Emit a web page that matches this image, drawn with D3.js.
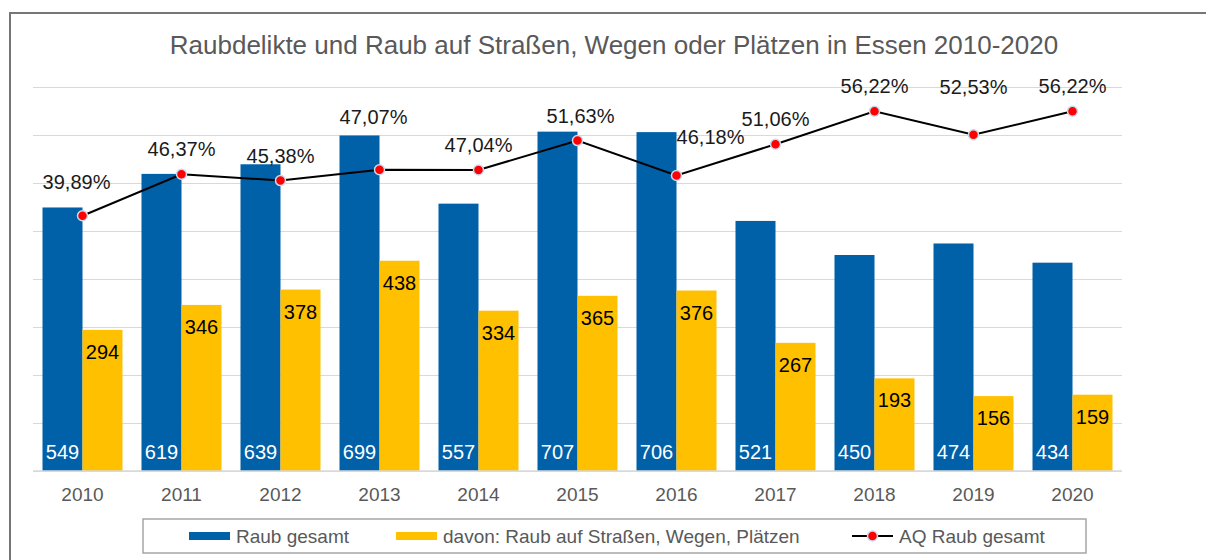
<!DOCTYPE html>
<html>
<head>
<meta charset="utf-8">
<script src="https://cdn.jsdelivr.net/npm/d3@7"></script>
<style>
  html, body { margin: 0; padding: 0; background: #fff; }
  svg { display: block; font-family: Arial, "Liberation Sans", sans-serif; }
</style>
</head>
<body>
<svg id="chart" width="1206" height="560"></svg>
<script>
// ---- Data ----
const years = ["2010", "2011", "2012", "2013", "2014", "2015", "2016", "2017", "2018", "2019", "2020"];
const raubGesamt = [549, 619, 639, 699, 557, 707, 706, 521, 450, 474, 434];
const raubStrasse = [294, 346, 378, 438, 334, 365, 376, 267, 193, 156, 159];
const aqRaub = [39.89, 46.37, 45.38, 47.07, 47.04, 51.63, 46.18, 51.06, 56.22, 52.53, 56.22];
const yTicks = [0, 100, 200, 300, 400, 500, 600, 700, 800];
const seriesNames = ["Raub gesamt", "davon: Raub auf Straßen, Wegen, Plätzen", "AQ Raub gesamt"];
const title = "Raubdelikte und Raub auf Straßen, Wegen oder Plätzen in Essen 2010-2020";

// manual nudges for the percent labels (like in the original spreadsheet)
const pctNudge = [[-6, -34], [0, -25], [0, -25], [-6, -53], [0, -25], [3, -25], [34, -38], [0, -25], [0, -25], [0, -48], [0, -25]];

const blue = "#0060a8", yellow = "#ffc000";

const svg = d3.select("#chart");

// ---- Frame ----
svg.append("path")
    .attr("d", "M10,560 L10,13 L1206,13")
    .attr("fill", "none")
    .attr("stroke", "#767676")
    .attr("stroke-width", 2);

// ---- Title ----
svg.append("text")
    .attr("x", 614)
    .attr("y", 54)
    .attr("text-anchor", "middle")
    .attr("fill", "#595959")
    .style("font-size", "26px")
    .text(title);

// ---- Scales ----
const pLeft = 33, pRight = 1122, pTop = 87, pBottom = 471;
const x = d3.scaleBand().domain(years).range([pLeft, pRight])
    .paddingInner(19 / 99).paddingOuter(19 / 198);
const xSub = d3.scaleBand().domain([0, 1]).range([0, x.bandwidth()]);
const y = d3.scaleLinear().domain([0, 800]).range([pBottom, pTop]);
const y2 = d3.scaleLinear().domain([0, 60]).range([pBottom, pTop]);

// ---- Gridlines ----
const grid = svg.append("g")
    .attr("transform", `translate(${pLeft},0)`)
    .call(d3.axisLeft(y).tickValues(yTicks).tickSize(-(pRight - pLeft)).tickFormat(""));
grid.select(".domain").remove();
grid.selectAll(".tick line").attr("stroke", "#d9d9d9").attr("stroke-width", 1);

// ---- Bars ----
const bars = svg.append("g");
bars.selectAll("rect.blue")
    .data(raubGesamt)
    .join("rect")
    .attr("x", (d, i) => x(years[i]) + xSub(0))
    .attr("y", d => y(d))
    .attr("width", xSub.bandwidth())
    .attr("height", d => y(0) - y(d))
    .attr("fill", blue);
bars.selectAll("rect.yellow")
    .data(raubStrasse)
    .join("rect")
    .attr("x", (d, i) => x(years[i]) + xSub(1))
    .attr("y", d => y(d))
    .attr("width", xSub.bandwidth())
    .attr("height", d => y(0) - y(d))
    .attr("fill", yellow);

// baseline
svg.append("line")
    .attr("x1", pLeft).attr("x2", pRight)
    .attr("y1", pBottom).attr("y2", pBottom)
    .attr("stroke", "#d9d9d9").attr("stroke-width", 1.5);

// bar labels
svg.append("g").selectAll("text")
    .data(raubGesamt)
    .join("text")
    .attr("x", (d, i) => x(years[i]) + xSub(0) + xSub.bandwidth() / 2)
    .attr("y", y(0) - 12)
    .attr("text-anchor", "middle")
    .attr("fill", "#fff")
    .style("font-size", "20px")
    .text(d => d);
svg.append("g").selectAll("text")
    .data(raubStrasse)
    .join("text")
    .attr("x", (d, i) => x(years[i]) + xSub(1) + xSub.bandwidth() / 2)
    .attr("y", d => y(d) + 29)
    .attr("text-anchor", "middle")
    .attr("fill", "#000")
    .style("font-size", "20px")
    .text(d => d);

// ---- Line ----
const cx = (d, i) => x(years[i]) + x.bandwidth() / 2;
svg.append("path")
    .datum(aqRaub)
    .attr("fill", "none")
    .attr("stroke", "#000")
    .attr("stroke-width", 2)
    .attr("d", d3.line().x(cx).y(d => y2(d)));
svg.append("g").selectAll("circle")
    .data(aqRaub)
    .join("circle")
    .attr("cx", cx)
    .attr("cy", d => y2(d))
    .attr("r", 5)
    .attr("fill", "#ff0000")
    .attr("stroke", "#c5dcef")
    .attr("stroke-width", 1.5);

const fmt = d => d.toFixed(2).replace(".", ",") + "%";
svg.append("g").selectAll("text")
    .data(aqRaub)
    .join("text")
    .attr("x", (d, i) => cx(d, i) + pctNudge[i][0])
    .attr("y", (d, i) => y2(d) + pctNudge[i][1] + 7)
    .attr("text-anchor", "middle")
    .attr("fill", "#1a1a1a")
    .style("font-size", "20px")
    .text(fmt);

// ---- X axis ----
const xAxis = svg.append("g")
    .attr("transform", `translate(0,${pBottom})`)
    .call(d3.axisBottom(x).tickSize(0).tickPadding(17));
xAxis.select(".domain").remove();
xAxis.selectAll("text")
    .attr("fill", "#595959")
    .style("font-size", "19px")
    .style("font-family", "Arial, 'Liberation Sans', sans-serif");

// ---- Legend ----
const legend = svg.append("g");
legend.append("rect")
    .attr("x", 143).attr("y", 519)
    .attr("width", 943).attr("height", 34)
    .attr("fill", "#fff")
    .attr("stroke", "#a6a6a6")
    .attr("stroke-width", 1.5);
const legendX = [189, 396, 852];
const ly = 536;
legend.append("rect").attr("x", legendX[0]).attr("y", ly - 4).attr("width", 41).attr("height", 8).attr("fill", blue);
legend.append("rect").attr("x", legendX[1]).attr("y", ly - 4).attr("width", 41).attr("height", 8).attr("fill", yellow);
legend.append("line").attr("x1", legendX[2]).attr("x2", legendX[2] + 41)
    .attr("y1", ly).attr("y2", ly).attr("stroke", "#000").attr("stroke-width", 2);
legend.append("circle").attr("cx", legendX[2] + 20.5).attr("cy", ly).attr("r", 5)
    .attr("fill", "#ff0000").attr("stroke", "#c5dcef").attr("stroke-width", 1.5);
legend.selectAll("text.lg")
    .data(seriesNames)
    .join("text")
    .attr("x", (d, i) => legendX[i] + 47)
    .attr("y", ly + 7)
    .attr("fill", "#595959")
    .style("font-size", "19px")
    .text(d => d);
</script>
</body>
</html>
